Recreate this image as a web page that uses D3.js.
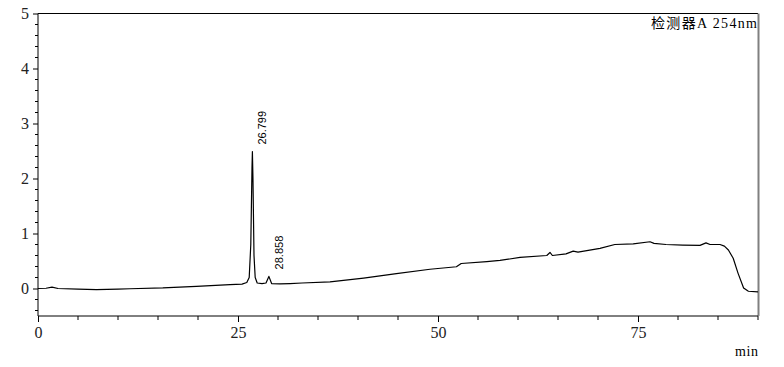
<!DOCTYPE html>
<html><head><meta charset="utf-8">
<script src="https://cdn.jsdelivr.net/npm/d3@7"></script>
<style>body{margin:0;background:#fff}svg{display:block}</style>
</head><body>
<script>
const times = [0,1.0,1.75,2.5,5,7.3,10,11.5,15.6,19.8,24,25.5,26.1,26.4,26.6,26.75,26.8,26.87,27.0,27.15,27.4,28.0,28.5,28.86,29.2,30.25,31.5,33,36.5,40.7,44.8,49,52.3,52.9,56.1,57.75,60.25,63.6,64,64.3,66.0,66.9,67.5,70.25,72.1,74.4,76.5,77,78.5,80.6,82.75,83.5,84,85.25,85.8,86.3,86.9,87.5,88.2,88.8,90];
const signal = [0,0.005,0.025,0,-0.01,-0.02,-0.01,-0.005,0.01,0.04,0.07,0.08,0.11,0.2,0.8,2.2,2.49,2.0,0.6,0.2,0.1,0.09,0.1,0.22,0.09,0.085,0.09,0.1,0.12,0.19,0.27,0.35,0.395,0.455,0.49,0.51,0.565,0.60,0.655,0.60,0.63,0.68,0.66,0.73,0.80,0.81,0.85,0.82,0.80,0.79,0.785,0.83,0.80,0.80,0.77,0.70,0.55,0.28,0.01,-0.05,-0.06];
const peakTimes = [26.799, 28.858];
const peakHeights = [2.49, 0.22];
const peakLabels = ["26.799", "28.858"];
const xTicks = [0,25,50,75];
const yTicks = [0,1,2,3,4,5];
const detectorLabel = "检测器A 254nm";
const xUnit = "min";

const W = 784, H = 367;
const m = {l:38, r:26, t:13.5, b:51};
const svg = d3.select("body").append("svg").attr("width",W).attr("height",H);
const x = d3.scaleLinear().domain([0,90]).range([m.l, W-m.r]);
const y = d3.scaleLinear().domain([-0.5,5]).range([H-m.b, m.t]);
const serif = "'Liberation Serif','Noto Sans CJK SC',serif";

// frame: top and right
svg.append("line").attr("x1",x(0)).attr("x2",x(90)).attr("y1",y(5)).attr("y2",y(5)).attr("stroke","#000").attr("stroke-width",1);
svg.append("line").attr("x1",x(90)+0.5).attr("x2",x(90)+0.5).attr("y1",y(5)).attr("y2",y(-0.5)).attr("stroke","#808080").attr("stroke-width",2);

// x axis
const xMinor = d3.range(0,91,5).filter(v=>!xTicks.includes(v));
const gx = svg.append("g").attr("transform",`translate(0,${y(-0.5)})`);
gx.call(d3.axisBottom(x).tickValues(xTicks).tickSize(6).tickPadding(5).tickFormat(d3.format("d")));
gx.attr("font-family",serif).attr("font-size",16);
gx.selectAll(".minor").data(xMinor).join("line").attr("class","minor")
  .attr("x1",d=>x(d)).attr("x2",d=>x(d)).attr("y1",0).attr("y2",4).attr("stroke","#000");
gx.select(".domain").attr("d",`M${x(0)},0H${x(90)}`);

// y axis
const yMinor = d3.range(-4,50,2).map(v=>v/10).filter(v=>!yTicks.includes(v));
const gy = svg.append("g").attr("transform",`translate(${x(0)},0)`);
gy.call(d3.axisLeft(y).tickValues(yTicks).tickSize(5).tickPadding(4).tickFormat(d3.format("d")));
gy.attr("font-family",serif).attr("font-size",16);
gy.selectAll(".minor").data(yMinor).join("line").attr("class","minor")
  .attr("x1",-3).attr("x2",0).attr("y1",d=>y(d)).attr("y2",d=>y(d)).attr("stroke","#000");
gy.select(".domain").attr("d",`M0,${y(5)}V${y(-0.5)}`);
svg.selectAll(".tick text").style("font-family",serif).style("font-size","16px").attr("fill","#222");

// clip
svg.append("clipPath").attr("id","clip").append("rect")
  .attr("x",x(0)).attr("y",y(5)).attr("width",x(90)-x(0)).attr("height",y(-0.5)-y(5));

const pts = times.map((t,i)=>[t,signal[i]]);
svg.append("path").datum(pts).attr("clip-path","url(#clip)")
  .attr("fill","none").attr("stroke","#000").attr("stroke-width",1.2).attr("stroke-linejoin","round")
  .attr("d", d3.line().x(d=>x(d[0])).y(d=>y(d[1])));

// peak labels
peakTimes.forEach((t,i)=>{
  const px = x(t)+10, py = y(peakHeights[i])-7;
  svg.append("text").attr("transform",`translate(${px},${py}) rotate(-90)`)
    .attr("dy","0.35em").attr("font-family","'Liberation Sans',sans-serif").attr("font-size",11)
    .attr("fill","#000").text(peakLabels[i]);
});

// detector label
svg.append("text").attr("x",x(90)-1).attr("y",28).attr("text-anchor","end")
  .attr("textLength",106).attr("lengthAdjust","spacing")
  .attr("font-family",serif).attr("font-size",14).attr("fill","#000").text(detectorLabel);

// unit
svg.append("text").attr("x",x(90)).attr("y",356).attr("text-anchor","end")
  .attr("textLength",23).attr("lengthAdjust","spacing")
  .attr("font-family",serif).attr("font-size",14).attr("fill","#000").text(xUnit);
</script>
</body></html>
